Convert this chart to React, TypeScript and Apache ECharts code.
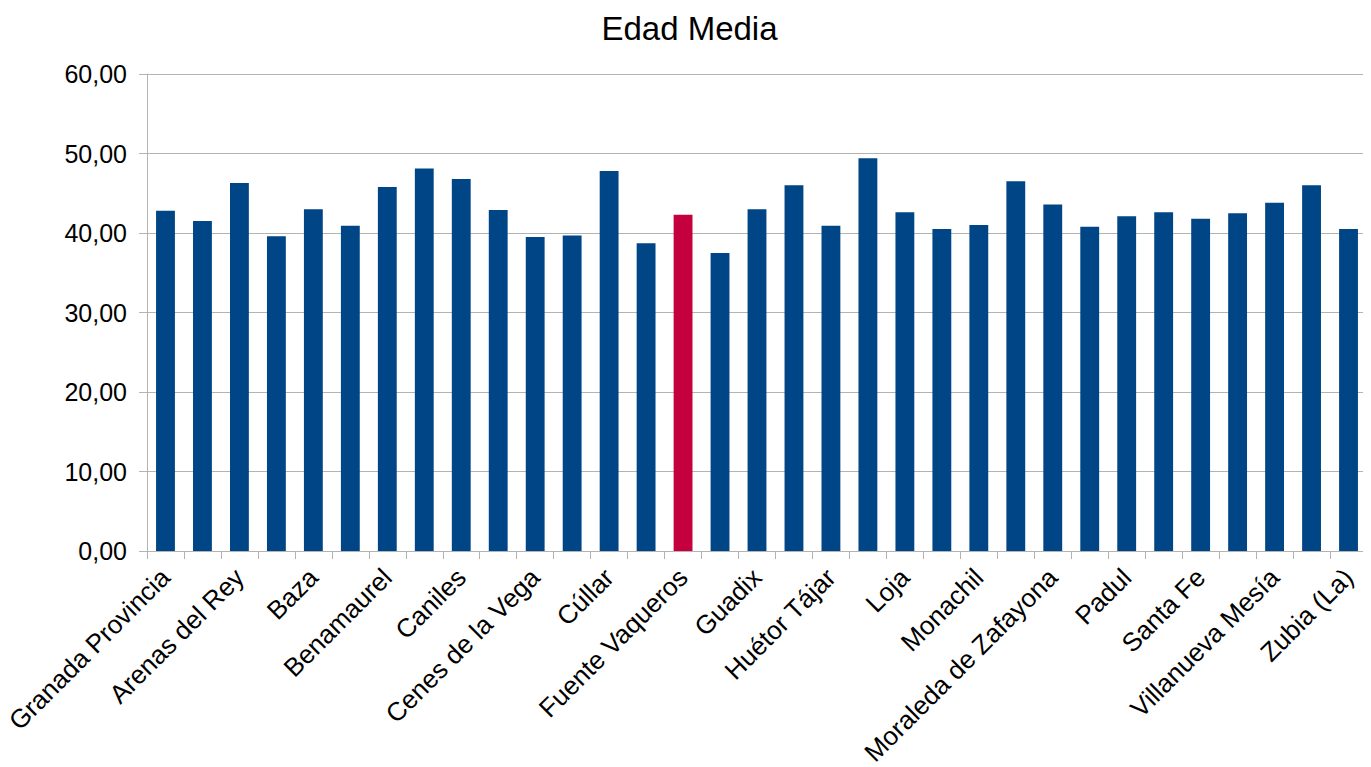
import React, { useEffect, useRef } from "react";
import * as echarts from "echarts";

const categories = [
  "Granada Provincia", "Alhama de Granada", "Arenas del Rey", "Atarfe", "Baza", "Benalúa",
  "Benamaurel", "Cájar", "Caniles", "Castilléjar", "Cenes de la Vega", "Churriana de la Vega",
  "Cúllar", "Fonelas", "Fuente Vaqueros", "Gabias (Las)", "Guadix", "Huéscar",
  "Huétor Tájar", "Íllora", "Loja", "Maracena", "Monachil", "Montefrío",
  "Moraleda de Zafayona", "Motril", "Padul", "Pinos Puente", "Santa Fe", "Vegas del Genil",
  "Villanueva Mesía", "Zafarraya", "Zubia (La)",
];

const values = [
  42.8, 41.5, 46.3, 39.6, 43.0, 40.9,
  45.8, 48.1, 46.8, 42.9, 39.5, 39.7,
  47.8, 38.7, 42.3, 37.5, 43.0, 46.0,
  40.9, 49.4, 42.6, 40.5, 41.0, 46.5,
  43.6, 40.8, 42.1, 42.6, 41.8, 42.5,
  43.8, 46.0, 40.5,
];

const highlighted = "Fuente Vaqueros";
const yTicks = { min: 0, max: 60, interval: 10 };

export default function App() {
  const ref = useRef<HTMLDivElement>(null);
  useEffect(() => {
    if (!ref.current) return;
    const chart = echarts.init(ref.current, null, { renderer: "svg" });
    const font = "'Liberation Sans', Arial, sans-serif";
    chart.setOption({
      animation: false,
      textStyle: { fontFamily: font },
      title: {
        text: "Edad Media",
        left: "center",
        top: -1,
        textStyle: { fontFamily: font, fontSize: 33, fontWeight: "normal", color: "#000" },
      },
      grid: {
        left: 139,
        right: 4,
        top: 66,
        bottom: 216,
        containLabel: false,
        outerBoundsMode: "none",
      },
      xAxis: {
        type: "category",
        data: categories,
        axisLine: { lineStyle: { color: "#b3b3b3" } },
        axisTick: { show: true, interval: 0, length: 8, lineStyle: { color: "#b3b3b3" } },
        axisLabel: {
          interval: 1,
          rotate: 45,
          fontSize: 26,
          color: "#000",
          fontFamily: font,
          margin: 22,
        },
      },
      yAxis: {
        type: "value",
        min: yTicks.min,
        max: yTicks.max,
        interval: yTicks.interval,
        axisLine: { show: true, lineStyle: { color: "#b3b3b3" } },
        axisTick: { show: true, length: 8, lineStyle: { color: "#b3b3b3" } },
        splitLine: { lineStyle: { color: "#b3b3b3" } },
        axisLabel: {
          fontSize: 25,
          color: "#000",
          fontFamily: font,
          margin: 20,
          formatter: (v: number) => v.toFixed(2).replace(".", ","),
        },
      },
      series: [
        {
          type: "bar",
          barWidth: "51%",
          data: values.map((v, i) => ({
            value: v,
            itemStyle: { color: categories[i] === highlighted ? "#c5003e" : "#004586" },
          })),
        },
      ],
    });
    return () => chart.dispose();
  }, []);
  return <div ref={ref} style={{ width: 1363, height: 759 }} />;
}
